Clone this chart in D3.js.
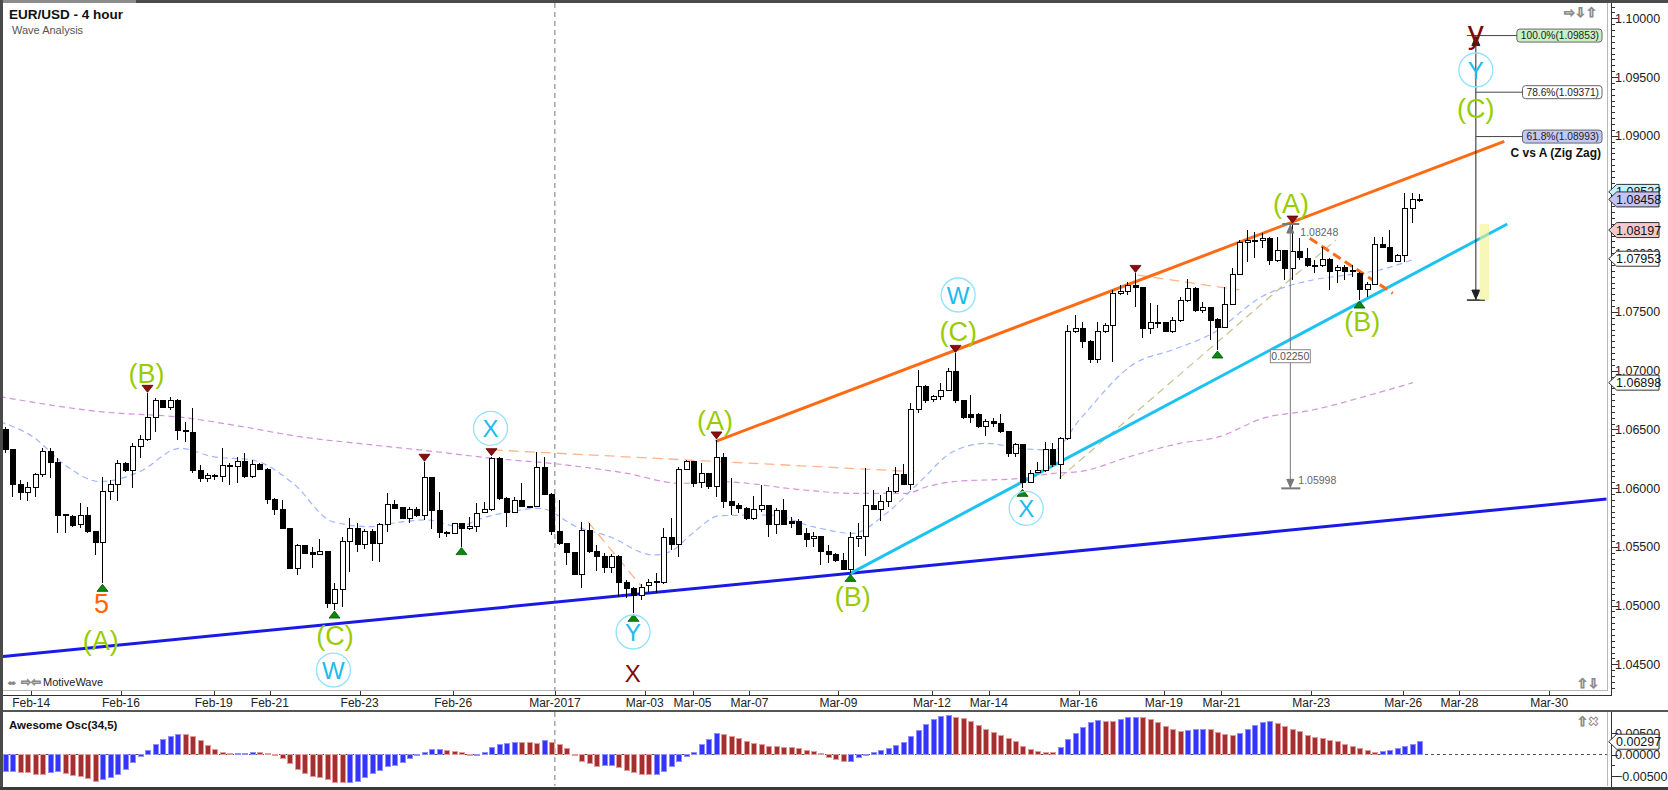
<!DOCTYPE html>
<html>
<head>
<meta charset="utf-8">
<title>EUR/USD - 4 hour</title>
<script src="https://cdn.jsdelivr.net/npm/d3@7"></script>
<style>
  html, body { margin: 0; padding: 0; background: #fff; }
  #chart text { font-family: "Liberation Sans", Arial, sans-serif; }
</style>
</head>
<body>
<svg id="chart" width="1668" height="790"></svg>
<script>
// === candles (4h bars)
const opens = [
  1.06500,1.06330,1.06027,1.05964,1.06004,1.06112,1.06316,1.06217,1.05777,1.05757,
  1.05686,1.05765,1.05629,1.05536,1.05970,1.06027,1.06211,1.06154,1.06353,1.06410,
  1.06603,1.06742,1.06685,1.06750,1.06489,1.06472,1.06146,1.06086,1.06106,1.06097,
  1.06194,1.06183,1.06225,1.06097,1.06202,1.06160,1.05904,1.05814,1.05652,1.05317,
  1.05510,1.05450,1.05439,1.05459,1.05019,1.05138,1.05544,1.05658,1.05516,1.05630,
  1.05530,1.05686,1.05862,1.05834,1.05743,1.05814,1.05763,1.06092,1.05806,1.05618,
  1.05613,1.05695,1.05652,1.05672,1.05791,1.05814,1.06254,1.05908,1.05794,1.05894,
  1.05843,1.05843,1.06175,1.05948,1.05630,1.05530,1.05454,1.05266,1.05638,1.05459,
  1.05422,1.05326,1.05422,1.05198,1.05142,1.05085,1.05167,1.05201,1.05196,1.05581,
  1.05522,1.06160,1.06226,1.06050,1.06121,1.06013,1.06260,1.05884,1.05850,1.05828,
  1.05743,1.05819,1.05850,1.05694,1.05813,1.05714,1.05720,1.05615,1.05567,1.05586,
  1.05464,1.05439,1.05382,1.05308,1.05575,1.05584,1.05856,1.05819,1.05884,1.05970,
  1.06117,1.06035,1.06671,1.06869,1.06756,1.06784,1.06829,1.06997,1.06744,1.06628,
  1.06631,1.06523,1.06566,1.06546,1.06480,1.06296,1.06373,1.06046,1.06131,1.06148,
  1.06330,1.06197,1.06424,1.07332,1.07360,1.07247,1.07096,1.07332,1.07383,1.07658,
  1.07678,1.07721,1.07706,1.07360,1.07411,1.07408,1.07337,1.07431,1.07601,1.07701,
  1.07508,1.07539,1.07437,1.07369,1.07564,1.07820,1.08089,1.08098,1.08112,1.08126,
  1.07942,1.08021,1.07871,1.08013,1.07956,1.07899,1.07894,1.07950,1.07851,1.07879,
  1.07851,1.07828,1.07692,1.07735,1.08070,1.08050,1.07933,1.07984,1.08382,1.08453
];
const highs = [
  1.06517,1.06330,1.06069,1.06055,1.06126,1.06339,1.06339,1.06254,1.05777,1.05771,
  1.05870,1.05842,1.05629,1.06097,1.06069,1.06239,1.06225,1.06381,1.06452,1.06807,
  1.06764,1.06750,1.06778,1.06756,1.06566,1.06679,1.06197,1.06126,1.06120,1.06339,
  1.06211,1.06268,1.06302,1.06239,1.06217,1.06168,1.05913,1.05899,1.05658,1.05524,
  1.05516,1.05501,1.05564,1.05459,1.05195,1.05587,1.05743,1.05706,1.05650,1.05650,
  1.05701,1.05956,1.05899,1.05834,1.05843,1.05843,1.06220,1.06098,1.05970,1.05638,
  1.05706,1.05706,1.05757,1.05877,1.05885,1.06268,1.06263,1.05922,1.05922,1.06041,
  1.05848,1.06311,1.06268,1.05956,1.05899,1.05530,1.05454,1.05715,1.05706,1.05516,
  1.05445,1.05440,1.05431,1.05218,1.05161,1.05184,1.05224,1.05275,1.05658,1.05743,
  1.06177,1.06240,1.06226,1.06211,1.06126,1.06410,1.06300,1.06083,1.05870,1.05842,
  1.05933,1.06026,1.05856,1.05828,1.05904,1.05757,1.05734,1.05657,1.05629,1.05586,
  1.05515,1.05450,1.05445,1.05629,1.05700,1.06168,1.05984,1.05941,1.06012,1.06182,
  1.06205,1.06722,1.07005,1.06878,1.06793,1.06892,1.07020,1.07147,1.06750,1.06793,
  1.06636,1.06585,1.06594,1.06631,1.06480,1.06381,1.06373,1.06154,1.06225,1.06395,
  1.06381,1.06438,1.07389,1.07474,1.07417,1.07261,1.07417,1.07403,1.07687,1.07729,
  1.07757,1.07828,1.07715,1.07573,1.07559,1.07417,1.07459,1.07630,1.07777,1.07715,
  1.07587,1.07545,1.07445,1.07715,1.07871,1.08112,1.08197,1.08183,1.08169,1.08140,
  1.08140,1.08027,1.08248,1.08126,1.08041,1.07942,1.08055,1.07956,1.07899,1.07899,
  1.07899,1.07843,1.07757,1.08140,1.08140,1.08197,1.07993,1.08515,1.08510,1.08504
];
const lows = [
  1.06302,1.05927,1.05899,1.05890,1.05927,1.06097,1.06083,1.05615,1.05615,1.05672,
  1.05658,1.05621,1.05431,1.05189,1.05899,1.05893,1.06140,1.05998,1.06254,1.06400,
  1.06480,1.06679,1.06665,1.06410,1.06395,1.06126,1.06055,1.06055,1.06069,1.06055,
  1.06027,1.06041,1.06083,1.06083,1.06154,1.05862,1.05771,1.05649,1.05308,1.05260,
  1.05439,1.05317,1.05431,1.04976,1.04962,1.04991,1.05289,1.05459,1.05479,1.05380,
  1.05374,1.05630,1.05820,1.05735,1.05706,1.05757,1.05729,1.05650,1.05573,1.05587,
  1.05610,1.05502,1.05644,1.05630,1.05786,1.05808,1.05899,1.05672,1.05786,1.05837,
  1.05828,1.05837,1.05942,1.05601,1.05516,1.05346,1.05261,1.05147,1.05451,1.05295,
  1.05275,1.05281,1.05076,1.05062,1.04934,1.05048,1.05119,1.05105,1.05184,1.05474,
  1.05417,1.06155,1.06013,1.05999,1.05990,1.05922,1.05830,1.05771,1.05785,1.05728,
  1.05728,1.05799,1.05586,1.05609,1.05686,1.05657,1.05601,1.05501,1.05501,1.05345,
  1.05359,1.05374,1.05303,1.05274,1.05501,1.05422,1.05813,1.05723,1.05842,1.05955,
  1.06026,1.05984,1.06636,1.06722,1.06736,1.06750,1.06827,1.06722,1.06585,1.06551,
  1.06509,1.06443,1.06523,1.06472,1.06262,1.06268,1.05998,1.06040,1.06126,1.06140,
  1.06182,1.06075,1.06410,1.07318,1.07190,1.07062,1.07068,1.07318,1.07076,1.07644,
  1.07644,1.07545,1.07275,1.07312,1.07360,1.07326,1.07323,1.07417,1.07587,1.07502,
  1.07488,1.07261,1.07176,1.07360,1.07559,1.07814,1.07928,1.07956,1.08041,1.07899,
  1.07928,1.07772,1.07772,1.07942,1.07885,1.07828,1.07885,1.07687,1.07743,1.07772,
  1.07800,1.07601,1.07630,1.07729,1.08041,1.07928,1.07928,1.07928,1.08254,1.08439
];
const closes = [
  1.06325,1.06027,1.05961,1.06004,1.06112,1.06316,1.06217,1.05771,1.05763,1.05680,
  1.05765,1.05629,1.05536,1.05970,1.06027,1.06211,1.06154,1.06353,1.06410,1.06603,
  1.06742,1.06685,1.06750,1.06489,1.06478,1.06146,1.06083,1.06106,1.06097,1.06191,
  1.06183,1.06225,1.06097,1.06202,1.06160,1.05904,1.05814,1.05652,1.05317,1.05510,
  1.05445,1.05439,1.05459,1.05019,1.05138,1.05544,1.05658,1.05524,1.05630,1.05530,
  1.05686,1.05862,1.05828,1.05743,1.05814,1.05763,1.06092,1.05806,1.05621,1.05613,
  1.05695,1.05658,1.05672,1.05786,1.05814,1.06254,1.05908,1.05794,1.05894,1.05843,
  1.05837,1.06175,1.05948,1.05630,1.05530,1.05454,1.05266,1.05638,1.05459,1.05422,
  1.05326,1.05422,1.05198,1.05142,1.05085,1.05156,1.05198,1.05196,1.05581,1.05522,
  1.06160,1.06226,1.06041,1.06121,1.06013,1.06260,1.05885,1.05848,1.05828,1.05743,
  1.05819,1.05850,1.05686,1.05813,1.05694,1.05700,1.05609,1.05564,1.05586,1.05459,
  1.05439,1.05382,1.05308,1.05578,1.05584,1.05856,1.05819,1.05884,1.05970,1.06117,
  1.06035,1.06671,1.06869,1.06750,1.06784,1.06829,1.06997,1.06744,1.06600,1.06600,
  1.06523,1.06566,1.06551,1.06480,1.06296,1.06373,1.06046,1.06126,1.06154,1.06330,
  1.06197,1.06424,1.07332,1.07360,1.07247,1.07091,1.07332,1.07383,1.07658,1.07678,
  1.07721,1.07706,1.07360,1.07408,1.07403,1.07337,1.07431,1.07601,1.07701,1.07508,
  1.07539,1.07431,1.07369,1.07564,1.07820,1.08089,1.08104,1.08112,1.08126,1.07942,
  1.08021,1.07871,1.08013,1.07965,1.07899,1.07891,1.07950,1.07848,1.07879,1.07848,
  1.07843,1.07692,1.07735,1.08070,1.08050,1.07933,1.07984,1.08382,1.08458,1.08458
];

// === Awesome Osc(34,5), one value per bar
const aoValues = [
  -0.00403,-0.00388,-0.00411,-0.00426,-0.00465,-0.00465,-0.00411,-0.00403,-0.00442,-0.00488,
  -0.00504,-0.00566,-0.00620,-0.00581,-0.00543,-0.00465,-0.00349,-0.00194,-0.00054,0.00093,
  0.00225,0.00349,0.00426,0.00465,0.00460,0.00426,0.00333,0.00209,0.00116,0.00054,
  0.00016,0.00023,0.00031,0.00054,0.00047,0.00031,-0.00023,-0.00101,-0.00217,-0.00349,
  -0.00442,-0.00504,-0.00543,-0.00581,-0.00643,-0.00659,-0.00643,-0.00620,-0.00543,-0.00442,
  -0.00364,-0.00287,-0.00248,-0.00194,-0.00101,-0.00008,0.00054,0.00109,0.00124,0.00101,
  0.00078,0.00039,-0.00023,-0.00018,0.00047,0.00171,0.00233,0.00248,0.00287,0.00271,
  0.00268,0.00265,0.00326,0.00271,0.00233,0.00140,-0.00016,-0.00155,-0.00209,-0.00271,
  -0.00266,-0.00262,-0.00310,-0.00372,-0.00426,-0.00457,-0.00465,-0.00460,-0.00388,-0.00287,
  -0.00155,-0.00039,0.00054,0.00233,0.00349,0.00480,0.00465,0.00426,0.00372,0.00310,
  0.00256,0.00225,0.00194,0.00178,0.00171,0.00168,0.00132,0.00101,0.00078,0.00016,
  -0.00078,-0.00116,-0.00171,-0.00155,-0.00078,-0.00023,0.00039,0.00101,0.00140,0.00209,
  0.00287,0.00426,0.00566,0.00698,0.00814,0.00885,0.00899,0.00868,0.00829,0.00775,
  0.00674,0.00581,0.00504,0.00442,0.00372,0.00295,0.00194,0.00116,0.00078,0.00054,
  0.00047,0.00155,0.00349,0.00488,0.00620,0.00752,0.00791,0.00765,0.00760,0.00814,
  0.00853,0.00868,0.00853,0.00814,0.00736,0.00643,0.00581,0.00543,0.00566,0.00581,
  0.00589,0.00581,0.00519,0.00465,0.00442,0.00480,0.00581,0.00674,0.00752,0.00760,
  0.00721,0.00643,0.00581,0.00527,0.00450,0.00388,0.00372,0.00333,0.00295,0.00233,
  0.00194,0.00132,0.00093,0.00054,0.00078,0.00101,0.00132,0.00178,0.00235,0.00297
];

// === date axis (positions in bar units)
const tickLabels = ["Feb-14","Feb-16","Feb-19","Feb-21","Feb-23","Feb-26","Mar-2017","Mar-03","Mar-05","Mar-07",
                    "Mar-09","Mar-12","Mar-14","Mar-16","Mar-19","Mar-21","Mar-23","Mar-26","Mar-28","Mar-30"];
const tickBars = [4.5,16.5,28.9,36.4,48.4,60.9,74.5,86.5,92.9,100.5,
                  112.4,124.9,132.5,144.5,155.9,163.6,175.6,187.9,195.4,207.4];
const priceTicks = [1.045,1.050,1.055,1.060,1.065,1.070,1.075,1.080,1.085,1.090,1.095,1.100];

// === moving averages (bar, price)
const fastMa = [[0.3,1.06566],[4.7,1.06438],[9.3,1.06183],[13.7,1.06055],[19.0,1.06140],[24.4,1.06339],
  [28.8,1.06268],[34.1,1.06239],[39.5,1.06041],[44.8,1.05714],[49.8,1.05672],[52.8,1.05701],[57.3,1.05729],
  [61.8,1.05672],[64.1,1.05729],[68.5,1.05800],[72.5,1.05828],[77.4,1.05672],[81.8,1.05587],[87.6,1.05431],
  [89.9,1.05459],[92.9,1.05616],[96.5,1.05765],[103.2,1.05771],[109,1.05672],[114.3,1.05615],[118.8,1.05785],
  [123.3,1.06055],[127.7,1.06310],[132.2,1.06381],[136.6,1.06339],[141.1,1.06324],[144.6,1.06580],
  [152,1.07062],[157,1.07176],[162.4,1.07318],[169,1.07630],[175.8,1.07772],[180.3,1.07814],
  [184.7,1.07857],[189.5,1.07953]];
const slowMa = [[0.3,1.06779],[13.7,1.06651],[25,1.06600],[31.5,1.06537],[40.4,1.06438],[49.8,1.06370],
  [57.3,1.06319],[66.2,1.06254],[75.2,1.06203],[84.1,1.06126],[91.2,1.06041],[96.5,1.06055],
  [107.8,1.05984],[114.3,1.05955],[121.5,1.05955],[124.2,1.06012],[127.7,1.06055],[136.6,1.06083],
  [141.1,1.06126],[144.6,1.06140],[151.3,1.06268],[158,1.06381],[163.3,1.06438],[169.1,1.06594],
  [175.8,1.06665],[183.4,1.06792],[189.2,1.06898]];

// === drawn trend lines (bar, price)
const blueLine = [[0.73,1.04567],[215.06,1.05907]];
const orangeLine = [[96,1.06398],[201.4,1.08952]];
const cyanLine = [[114,1.05274],[201.8,1.08249]];
const orangeDash = [[175.4,1.08127],[186.5,1.07659]];
const peachLines = [
  [[66.2,1.06325],[122.6,1.06140]],
  [[78.9,1.05714],[86.1,1.05161]],
  [[152.4,1.07814],[166.0,1.07687]]
];
const tanLine = [[141.9,1.06083],[178.9,1.08112]];

// === swing markers (bar numbers)
const highMarks = [20,57,66,96,128,152,173];
const lowMarks = [14,45,62,85,114,137,163,182];

// === wave labels
const waveTexts = ["(A)","5","(B)","(C)","W","X","Y","X","(A)","W","(C)","(B)","X","(A)","(B)","y","Y","(C)"];
const waveBars = [13.8,13.9,19.9,45.1,44.9,65.9,84.95,84.9,95.9,128.4,128.4,114.3,137.5,172.9,182.4,197.6,197.6,197.6];
const wavePrices = [1.04707,1.05022,1.06980,1.04749,1.04451,1.06509,1.04775,1.04426,1.06580,1.07644,
                    1.07332,1.05076,1.05828,1.08425,1.07417,1.09815,1.09560,1.09236];
const waveKinds = ["minor","sub","minor","minor","inter","inter","inter","primary","minor","inter",
                   "minor","minor","inter","minor","minor","primaryProj","inter","minor"];

// === tools
const fibLevels = [1.09853,1.09371,1.08993];
const fibTexts = ["100.0%(1.09853)","78.6%(1.09371)","61.8%(1.08993)"];
const fibBar = 197.6, fibBase = 1.07601;
const measBar = 172.8, measTop = 1.08248, measBottom = 1.05998;
const zoneBars = [198.1,199.35], zonePrices = [1.07601,1.08248];
const tagPrices = [1.08522,1.08458,1.08197,1.07953,1.06898];
const aoLast = 0.00297;

(() => {
  const svg = d3.select("#chart");
  const PL = 3, PT = 3, PR = 1607, PB = 690.7, AXY = 695;
  const OT = 712, OB = 786, AX = 1611.7;

  const x = d3.scaleLinear().domain([1, 190]).range([5, 1419]);
  const y = d3.scaleLinear().domain([1.045, 1.10]).range([664.3, 18.3]);
  const yo = d3.scaleLinear().domain([-0.005, 0.005]).range([776, 733]);
  const bars = d3.range(1, opens.length + 1);
  const fmt5 = d3.format(".5f");

  const defs = svg.append("defs");
  defs.append("clipPath").attr("id", "clipMain").append("rect")
    .attr("x", PL).attr("y", PT).attr("width", PR - PL).attr("height", PB - PT);
  defs.append("clipPath").attr("id", "clipOsc").append("rect")
    .attr("x", PL).attr("y", OT).attr("width", PR - PL).attr("height", OB - OT);

  // === frame
  svg.append("rect").attr("width", 1668).attr("height", 790).attr("fill", "#fff");
  const frame = svg.append("g").attr("shape-rendering", "crispEdges");
  frame.append("line").attr("x1", PR).attr("x2", PR).attr("y1", PT).attr("y2", PB).attr("stroke", "#b8b8b8");
  frame.append("line").attr("x1", PL).attr("x2", PR).attr("y1", PB).attr("y2", PB).attr("stroke", "#b8b8b8");
  frame.append("line").attr("x1", PR).attr("x2", PR).attr("y1", OT).attr("y2", OB).attr("stroke", "#b8b8b8");
  frame.append("line").attr("x1", AX).attr("x2", AX).attr("y1", 0).attr("y2", AXY).attr("stroke", "#333");
  frame.append("line").attr("x1", AX).attr("x2", AX).attr("y1", OT).attr("y2", 790).attr("stroke", "#333");
  frame.append("line").attr("x1", PL).attr("x2", AX).attr("y1", AXY).attr("y2", AXY).attr("stroke", "#333");
  frame.append("rect").attr("x", 0).attr("y", 709.5).attr("width", 1668).attr("height", 2).attr("fill", "#555");
  frame.append("rect").attr("x", 0).attr("y", 0).attr("width", 1668).attr("height", 2.5).attr("fill", "#4a4a4a");
  frame.append("rect").attr("x", 0).attr("y", 0).attr("width", 136).attr("height", 2.5).attr("fill", "#8c8c8c");
  frame.append("rect").attr("x", 0).attr("y", 0).attr("width", 2.5).attr("height", 790).attr("fill", "#4a4a4a");
  frame.append("rect").attr("x", 0).attr("y", 787).attr("width", 1668).attr("height", 3).attr("fill", "#3a3a3a");

  // === month separator
  const xSep = x(tickBars[tickLabels.indexOf("Mar-2017")]);
  [[PT, PB], [OT, OB]].forEach(([a, b]) => {
    svg.append("line").attr("x1", xSep).attr("x2", xSep).attr("y1", a).attr("y2", b)
      .attr("stroke", "#777").attr("stroke-dasharray", "5,4");
  });

  const main = svg.append("g").attr("clip-path", "url(#clipMain)");
  const line = d3.line().x(d => x(d[0])).y(d => y(d[1]));
  const smooth = d3.line().curve(d3.curveMonotoneX).x(d => x(d[0])).y(d => y(d[1]));

  // === moving averages
  main.append("path").datum(slowMa).attr("d", smooth).attr("fill", "none")
    .attr("stroke", "#d394dc").attr("stroke-width", 1.2).attr("stroke-dasharray", "6,4");
  main.append("path").datum(fastMa).attr("d", smooth).attr("fill", "none")
    .attr("stroke", "#9fb6ff").attr("stroke-width", 1.2).attr("stroke-dasharray", "6,4");

  // === thin dashed guides
  peachLines.forEach(seg => {
    main.append("path").datum(seg).attr("d", line).attr("fill", "none")
      .attr("stroke", "#ffb487").attr("stroke-width", 1.3).attr("stroke-dasharray", "10,6");
  });
  main.append("path").datum(tanLine).attr("d", line).attr("fill", "none")
    .attr("stroke", "#c9c08c").attr("stroke-width", 1.2).attr("stroke-dasharray", "8,5");

  // === trend lines
  main.append("path").datum(blueLine).attr("d", line).attr("stroke", "#1a1ae6").attr("stroke-width", 3);
  main.append("path").datum(orangeLine).attr("d", line).attr("stroke", "#ff6a13").attr("stroke-width", 3);
  main.append("path").datum(cyanLine).attr("d", line).attr("stroke", "#1cc3f2").attr("stroke-width", 3);
  main.append("path").datum(orangeDash).attr("d", line).attr("stroke", "#ff6a13").attr("stroke-width", 3)
    .attr("stroke-dasharray", "9,5");

  // === candles
  const cg = main.append("g").attr("shape-rendering", "crispEdges");
  const cx = k => Math.round(x(k));
  cg.selectAll("line.wick").data(bars).join("line").attr("class", "wick")
    .attr("x1", k => cx(k) + 0.5).attr("x2", k => cx(k) + 0.5)
    .attr("y1", (k, i) => y(highs[i])).attr("y2", (k, i) => y(lows[i]))
    .attr("stroke", "#000");
  cg.selectAll("rect.body").data(bars).join("rect").attr("class", "body")
    .attr("x", k => cx(k) - 2)
    .attr("y", (k, i) => y(Math.max(opens[i], closes[i])))
    .attr("width", 5)
    .attr("height", (k, i) => Math.max(1, Math.abs(y(opens[i]) - y(closes[i]))))
    .attr("fill", (k, i) => closes[i] > opens[i] ? "#fff" : "#000")
    .attr("stroke", "#000");

  // === swing markers
  main.selectAll("path.hi").data(highMarks).join("path").attr("class", "hi")
    .attr("d", k => { const c = cx(k) + 0.5, yy = y(highs[k - 1]) - 1;
      return `M${c - 5.5},${yy - 7}L${c + 5.5},${yy - 7}L${c},${yy}Z`; })
    .attr("fill", "#8b0d0d").attr("stroke", "#5a0000").attr("stroke-width", 0.8);
  main.selectAll("path.lo").data(lowMarks).join("path").attr("class", "lo")
    .attr("d", k => { const c = cx(k) + 0.5, yy = y(lows[k - 1]) + 1;
      return `M${c - 5.5},${yy + 7}L${c + 5.5},${yy + 7}L${c},${yy}Z`; })
    .attr("fill", "#0a8a0a").attr("stroke", "#005000").attr("stroke-width", 0.8);

  // === measure tool (A high -> X low)
  const mx = x(measBar);
  const mg = main.append("g").attr("stroke", "#777").attr("fill", "#777");
  mg.append("line").attr("x1", mx).attr("x2", mx).attr("y1", y(measTop)).attr("y2", y(measBottom));
  mg.append("line").attr("x1", mx - 8).attr("x2", mx + 9).attr("y1", y(measTop)).attr("y2", y(measTop)).attr("stroke-width", 2);
  mg.append("line").attr("x1", mx - 9).attr("x2", mx + 10).attr("y1", y(measBottom)).attr("y2", y(measBottom)).attr("stroke-width", 2);
  mg.append("path").attr("d", `M${mx - 3.5},${y(measTop) + 9}L${mx + 3.5},${y(measTop) + 9}L${mx},${y(measTop) + 1}Z`);
  mg.append("path").attr("d", `M${mx - 3.5},${y(measBottom) - 9}L${mx + 3.5},${y(measBottom) - 9}L${mx},${y(measBottom) - 1}Z`);
  main.append("text").attr("x", mx + 10).attr("y", y(measTop) + 12).attr("font-size", 10.5)
    .attr("fill", "#666").text(fmt5(measTop));
  main.append("text").attr("x", mx + 8).attr("y", y(measBottom) - 4).attr("font-size", 10.5)
    .attr("fill", "#666").text(fmt5(measBottom));
  const my = y((measTop + measBottom) / 2);
  main.append("rect").attr("x", mx - 20).attr("y", my - 6.5).attr("width", 40).attr("height", 13)
    .attr("fill", "#fff").attr("stroke", "#888");
  main.append("text").attr("x", mx).attr("y", my + 4).attr("text-anchor", "middle").attr("font-size", 10.5)
    .attr("fill", "#555").text(fmt5(measTop - measBottom));

  // === fib projection tool
  const fx = x(fibBar);
  const fg = main.append("g").attr("stroke", "#222").attr("fill", "#222");
  fg.append("line").attr("x1", fx).attr("x2", fx).attr("y1", y(fibLevels[0])).attr("y2", y(fibBase));
  fg.append("line").attr("x1", fx - 9).attr("x2", fx + 9).attr("y1", y(fibBase)).attr("y2", y(fibBase)).attr("stroke-width", 1.5);
  fg.append("path").attr("d", `M${fx - 4},${y(fibLevels[0]) + 10}L${fx + 4},${y(fibLevels[0]) + 10}L${fx},${y(fibLevels[0]) + 1}Z`);
  fg.append("path").attr("d", `M${fx - 4},${y(fibBase) - 10}L${fx + 4},${y(fibBase) - 10}L${fx},${y(fibBase) - 1}Z`);
  const fibFill = ["#c9f0c2", "#ffffff", "#c4c8f4"];
  fibLevels.forEach((p, i) => {
    const yy = y(p);
    const t = main.append("text").attr("x", 1599).attr("y", yy + 3.8).attr("text-anchor", "end")
      .attr("font-size", 10.2).attr("fill", "#222").text(fibTexts[i]);
    const w = t.node().getComputedTextLength();
    main.insert("rect", () => t.node()).attr("x", 1599 - w - 4).attr("y", yy - 6.5)
      .attr("width", w + 7).attr("height", 13).attr("rx", 3)
      .attr("fill", fibFill[i]).attr("stroke", "#666");
    main.append("line").attr("x1", i === 0 ? fx - 9 : fx).attr("x2", 1599 - w - 4)
      .attr("y1", yy).attr("y2", yy).attr("stroke", "#444");
  });
  main.append("text").attr("x", 1601).attr("y", y(fibLevels[2]) + 20).attr("text-anchor", "end")
    .attr("font-size", 12).attr("font-weight", "bold").attr("fill", "#111").text("C vs A (Zig Zag)");

  // === target zone
  main.append("rect").attr("x", x(zoneBars[0])).attr("width", x(zoneBars[1]) - x(zoneBars[0]))
    .attr("y", y(zonePrices[1])).attr("height", y(zonePrices[0]) - y(zonePrices[1]))
    .attr("fill", "#f2f28a").attr("opacity", 0.6);

  // === wave labels
  const waveStyle = {
    minor: { color: "#99cc00", size: 27 },
    sub: { color: "#ff6600", size: 27 },
    inter: { color: "#1bbcf0", size: 24, ring: "#8fe3ff" },
    primary: { color: "#7d0a0a", size: 24 },
    primaryProj: { color: "#7d0a0a", size: 32 }
  };
  waveTexts.forEach((txt, i) => {
    const st = waveStyle[waveKinds[i]];
    const px = x(waveBars[i]), py = y(wavePrices[i]);
    if (st.ring) {
      main.append("circle").attr("cx", px).attr("cy", py).attr("r", 17)
        .attr("fill", "none").attr("stroke", st.ring).attr("stroke-width", 1.3);
    }
    main.append("text").attr("x", px).attr("y", py).attr("dy", txt === "y" ? "0.1em" : "0.36em")
      .attr("text-anchor", "middle").attr("font-size", st.size).attr("fill", st.color).text(txt);
  });

  // === price axis
  const ag = svg.append("g").attr("shape-rendering", "crispEdges");
  ag.selectAll("line.minor").data(d3.range(0, 118).map(i => 1.0425 + i * 0.0005)).join("line")
    .attr("class", "minor").attr("x1", AX).attr("x2", AX + 3)
    .attr("y1", d => Math.round(y(d)) + 0.5).attr("y2", d => Math.round(y(d)) + 0.5)
    .attr("stroke", "#333").style("display", d => (y(d) < PT || y(d) > PB) ? "none" : null);
  ag.selectAll("line.major").data(priceTicks).join("line")
    .attr("class", "major").attr("x1", AX).attr("x2", AX + 6)
    .attr("y1", d => Math.round(y(d)) + 0.5).attr("y2", d => Math.round(y(d)) + 0.5).attr("stroke", "#333");
  // labels fully hidden under a price tag are not drawn
  const covered = d => tagPrices.filter(p => Math.abs(y(p) - y(d)) < 6).length > 1;
  svg.selectAll("text.plab").data(priceTicks.filter(d => !covered(d))).join("text").attr("class", "plab")
    .attr("x", 1615).attr("y", d => y(d) + 4.5).attr("font-size", 12.5).attr("fill", "#222")
    .text(d => fmt5(d));

  // === price tags
  const tagFill = ["#c6f1ff", "#c3c3f5", "#f6c9c9", "#ffffff", "#ffffff"];
  const tag = (yy, txt, fill) => {
    svg.append("path")
      .attr("d", `M${AX - 3},${yy}L${AX + 5},${yy - 7.5}L1659,${yy - 7.5}L1659,${yy + 7.5}L${AX + 5},${yy + 7.5}Z`)
      .attr("fill", fill).attr("stroke", "#333");
    svg.append("text").attr("x", 1616).attr("y", yy + 4.6).attr("font-size", 12.5).attr("fill", "#111").text(txt);
  };
  tagPrices.forEach((p, i) => tag(y(p), fmt5(p), tagFill[i]));

  // === date axis
  svg.selectAll("line.xt").data(tickBars).join("line").attr("class", "xt")
    .attr("x1", d => Math.round(x(d)) + 0.5).attr("x2", d => Math.round(x(d)) + 0.5)
    .attr("y1", PB).attr("y2", AXY).attr("stroke", "#333").attr("shape-rendering", "crispEdges");
  svg.selectAll("text.xl").data(tickLabels).join("text").attr("class", "xl")
    .attr("x", (d, i) => x(tickBars[i])).attr("y", 707).attr("text-anchor", "middle")
    .attr("font-size", 12).attr("fill", "#222").text(d => d);

  // === awesome oscillator
  svg.append("line").attr("x1", PL).attr("x2", PR).attr("y1", yo(0)).attr("y2", yo(0))
    .attr("stroke", "#555").attr("stroke-dasharray", "3,3");
  const og = svg.append("g").attr("clip-path", "url(#clipOsc)").attr("shape-rendering", "crispEdges");
  const aoUp = i => i === 0 || aoValues[i] > aoValues[i - 1];
  og.selectAll("rect").data(bars).join("rect")
    .attr("x", k => cx(k) - 2)
    .attr("y", (k, i) => Math.min(yo(aoValues[i]), yo(0)))
    .attr("width", 5)
    .attr("height", (k, i) => Math.max(0.5, Math.abs(yo(aoValues[i]) - yo(0))))
    .attr("fill", (k, i) => aoUp(i) ? "#3434ff" : "#a33030")
    .attr("stroke", (k, i) => aoUp(i) ? "#8f8fff" : "#e59a9a");
  const oTicks = [-0.005, -0.0025, 0, 0.0025, 0.005];
  svg.selectAll("line.ot").data(oTicks).join("line").attr("class", "ot")
    .attr("x1", AX).attr("x2", (d) => AX + (d % 0.005 === 0 ? 6 : 3))
    .attr("y1", d => Math.round(yo(d)) + 0.5).attr("y2", d => Math.round(yo(d)) + 0.5)
    .attr("stroke", "#333").attr("shape-rendering", "crispEdges");
  svg.selectAll("text.ol").data([0.005, 0, -0.005]).join("text").attr("class", "ol")
    .attr("x", 1615).attr("y", d => yo(d) + 4.5).attr("font-size", 12.5).attr("fill", "#222")
    .text(d => fmt5(d));
  tag(yo(aoLast), fmt5(aoLast), "#ffffff");

  // === titles & widgets
  svg.append("text").attr("x", 9).attr("y", 19).attr("font-size", 13.5).attr("font-weight", "bold")
    .attr("fill", "#111").text("EUR/USD - 4 hour");
  svg.append("text").attr("x", 12).attr("y", 34).attr("font-size", 11).attr("fill", "#555").text("Wave Analysis");
  svg.append("text").attr("x", 9).attr("y", 729).attr("font-size", 11.5).attr("font-weight", "bold")
    .attr("fill", "#111").text("Awesome Osc(34,5)");
  svg.append("text").attr("x", 43).attr("y", 686).attr("font-size", 11).attr("fill", "#222").text("MotiveWave");
  const hollow = (xx, yy, txt, size) => svg.append("text").attr("x", xx).attr("y", yy).attr("font-size", size)
    .attr("font-family", "DejaVu Sans").attr("fill", "#fff").attr("stroke", "#8a8a8a").attr("stroke-width", 0.9).text(txt);
  hollow(6, 686, "⇔ ⇨⇦", 12);
  hollow(1564, 17, "⇨⇩⇧", 13);
  hollow(1577, 688, "⇧⇩", 13);
  hollow(1577, 726, "⇧✖", 13);
})();
</script>
</body>
</html>
